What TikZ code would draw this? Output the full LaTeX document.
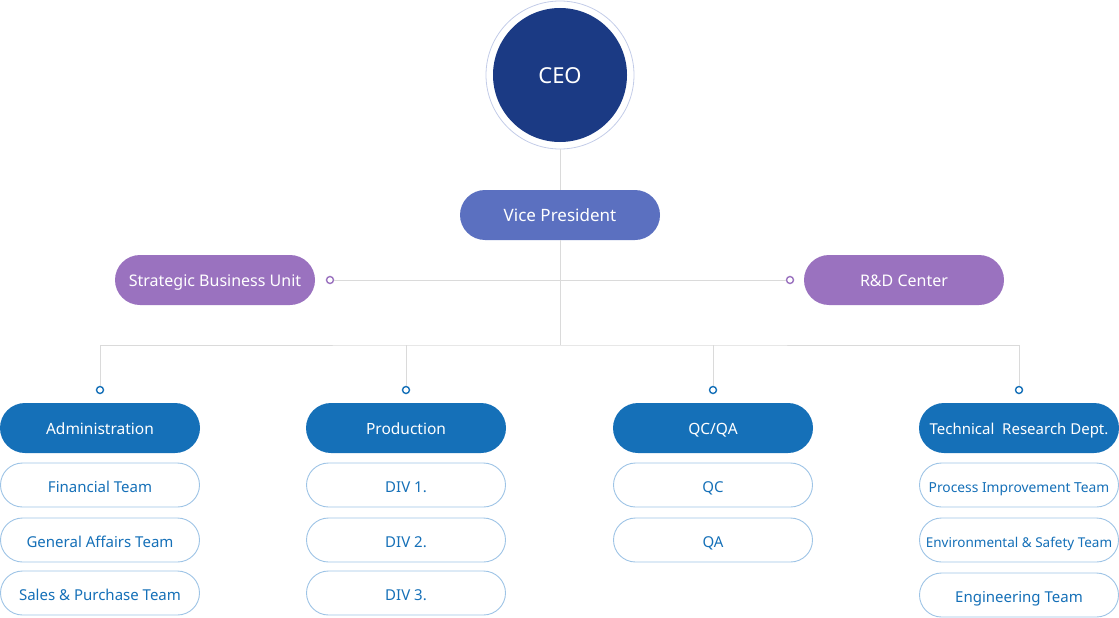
\documentclass[tikz,border=0pt]{standalone}
\usepackage{fontspec}
\setmainfont{Noto Sans}
\usepackage{xcolor}
\usetikzlibrary{positioning, calc}

\definecolor{ceoblue}{HTML}{1B3A84}
\definecolor{ringblue}{HTML}{C3CCE8}
\definecolor{vpblue}{HTML}{5B70C0}
\definecolor{unitpurple}{HTML}{9A72BF}
\definecolor{headblue}{HTML}{1570B8}
\definecolor{teamline}{HTML}{9EC4E6}
\definecolor{linegray}{HTML}{DADADA}

\newcommand{\fs}[1]{\fontsize{#1}{#1}\selectfont}

\begin{document}
\begin{tikzpicture}[x=1pt, y=-1pt,
    link/.style={draw=linegray, line width=0.9pt},
    pill/.style={rectangle, rounded corners=25pt, minimum width=200pt,
                 minimum height=50pt, inner sep=0pt, text=white,
                 text height=12pt, text depth=0pt},
    headbox/.style={pill, fill=headblue, font=\fs{15.5}},
    unitbox/.style={pill, fill=unitpurple, font=\fs{16}},
    teambox/.style={rectangle, rounded corners=22pt, minimum width=199pt,
                    minimum height=44pt, inner sep=0pt, draw=teamline,
                    line width=0.9pt, fill=white, text=headblue, font=\fs{15},
                    text height=14.5pt, text depth=0pt},
    bluedot/.style={circle, draw=headblue, line width=1.4pt, fill=white,
                    minimum size=7pt, inner sep=0pt},
    purpledot/.style={bluedot, draw=unitpurple}]
    \useasboundingbox (0,0) rectangle (1119,618);

    % CEO
    \node[circle, draw=ringblue, line width=0.8pt, minimum size=148pt,
          inner sep=0pt] (ring) at (560,75) {};
    \node[circle, fill=ceoblue, minimum size=134pt, inner sep=0pt,
          text=white, font=\fs{22}, text height=17.5pt, text depth=0pt] (ceo) at (560,75) {CEO};

    % Vice president
    \node[pill, fill=vpblue, font=\fs{17}] (vp) at (560,215) {Vice President};

    % Staff units
    \node[unitbox] (sbu) at (215,280) {Strategic Business Unit};
    \node[unitbox] (rnd) at (904,280) {R\&D Center};
    \node[purpledot] (dotL) at (330,280) {};
    \node[purpledot] (dotR) at (790,280) {};

    % Departments
    \coordinate (hub) at (560,345);
    \foreach \n/\x/\t in {1/100/Administration, 2/406/Production,
                          3/713/{QC/QA}, 4/1019/{\fs{15}Technical\ \ Research Dept.}} {
        \node[headbox] (dept\n) at (\x,428) {\t};
        \node[bluedot] (dot\n) at (\x,390) {};
    }

    % Teams
    \node[teambox] (adm1) at (100,485) {Financial Team};
    \node[teambox] (adm2) at (100,540) {General Affairs Team};
    \node[teambox] (adm3) at (100,593) {Sales \& Purchase Team};
    \foreach \i/\y in {1/485, 2/540, 3/593}
        \node[teambox] (div\i) at (406,\y) {DIV \i.};
    \node[teambox] (qc) at (713,485) {QC};
    \node[teambox] (qa) at (713,540) {QA};
    \node[teambox, font=\fs{13.8}] (tech1) at (1019,485) {Process Improvement Team};
    \node[teambox, font=\fs{13.5}] (tech2) at (1019,540) {Environmental \& Safety Team};
    \node[teambox] (tech3) at (1019,595) {Engineering Team};

    % Connectors
    \draw[link] (ring.south) -- (vp.north);
    \draw[link] (vp.south) -- (hub);
    \draw[link] (dotL.east) -- (dotR.west);
    \draw[link] (dot1.north) |- (hub) -| (dot4.north);
    \draw[link] (dot2.north) -- (dot2.north |- hub);
    \draw[link] (dot3.north) -- (dot3.north |- hub);
\end{tikzpicture}
\end{document}
